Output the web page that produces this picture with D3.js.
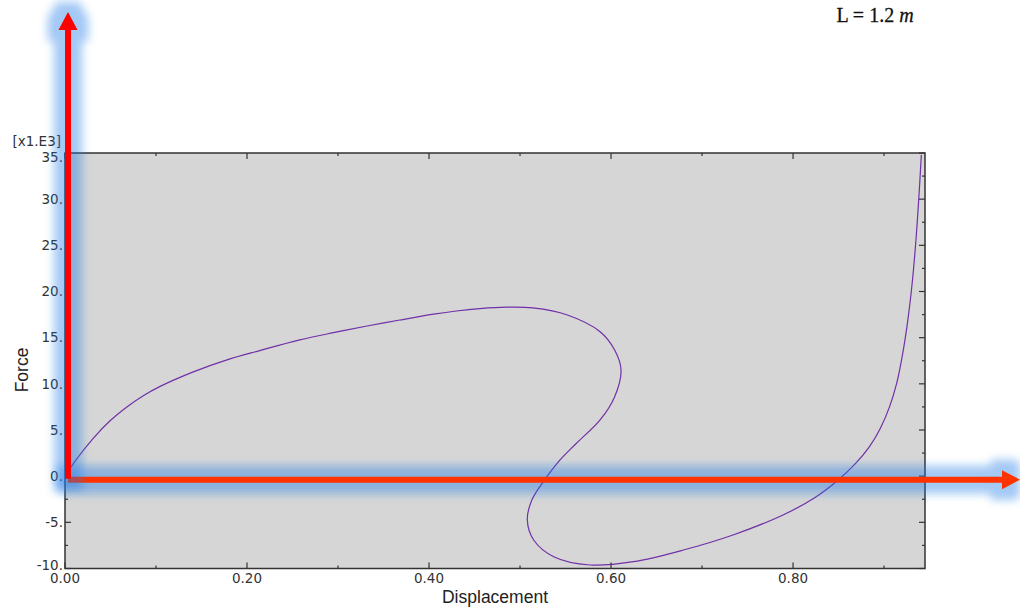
<!DOCTYPE html>
<html>
<head>
<meta charset="utf-8">
<script src="https://cdn.jsdelivr.net/npm/d3@7"></script>
<style>
	body { margin: 0; background: #fff; }
	svg { display: block; }
</style>
</head>
<body>
<svg id="chart" width="1020" height="608"></svg>
<script>

// load-displacement path (force in kN, i.e. x1.E3)
const displacement = [0, 0.012, 0.031, 0.0495, 0.068, 0.086, 0.104, 0.141, 0.178, 0.214, 0.258, 0.295, 0.332, 0.368, 0.405, 0.430, 0.456, 0.485, 0.514, 0.552, 0.588, 0.604, 0.611, 0.604, 0.588, 0.562, 0.544, 0.527, 0.513, 0.508, 0.515, 0.537, 0.577, 0.6245, 0.6795, 0.734, 0.789, 0.822, 0.848, 0.868, 0.884, 0.896, 0.906, 0.914, 0.920, 0.926, 0.931, 0.935, 0.938, 0.941];
const force = [0, 1.75, 4.1, 6.0, 7.5, 8.72, 9.7, 11.3, 12.6, 13.6, 14.76, 15.54, 16.26, 16.91, 17.54, 17.89, 18.15, 18.3, 18.22, 17.46, 15.65, 13.67, 11.5, 8.61, 6.09, 3.56, 1.76, -0.41, -2.58, -4.75, -6.91, -8.72, -9.62, -9.26, -8.0, -6.37, -4.2, -2.45, -0.55, 1.3, 3.2, 5.2, 7.5, 10.1, 13.0, 16.8, 21.0, 25.5, 29.8, 34.8];

const xTicks = [0, 0.2, 0.4, 0.6, 0.8];
const xTickLabels = ["0.00", "0.20", "0.40", "0.60", "0.80"];
const xMinorTicks = [0.1, 0.3, 0.5, 0.7, 0.9];
const yTicks = [-10, -5, 0, 5, 10, 15, 20, 25, 30, 35];
const yTickLabels = ["-10.", "-5.", "0.", "5.", "10.", "15.", "20.", "25.", "30.", "35."];
const yMinorTicks = [-7.5, -2.5, 2.5, 7.5, 12.5, 17.5, 22.5, 27.5, 32.5];

const xLabel = "Displacement";
const yLabel = "Force";
const yScaleNote = "[x1.E3]";

const svg = d3.select("#chart");

const pLeft = 65, pRight = 925, pTop = 153, pBottom = 568.5;

const x = d3.scaleLinear().domain([0, 0.945]).range([pLeft, pRight]);
const y = d3.scaleLinear().domain([-10, 35]).range([pBottom, pTop]);

// plot background
svg.append("rect")
	.attr("x", pLeft)
	.attr("y", pTop)
	.attr("width", pRight - pLeft)
	.attr("height", pBottom - pTop)
	.attr("fill", "#d6d6d6");

// curve
const points = displacement.map((d, i) => [d, force[i]]);
svg.append("path")
	.datum(points)
	.attr("d", d3.line()
		.x(d => x(d[0]))
		.y(d => y(d[1]))
		.curve(d3.curveCatmullRom.alpha(0.5)))
	.attr("fill", "none")
	.attr("stroke", "#7030a8")
	.attr("stroke-width", 1.2);

// frame with inward ticks on all four sides
const frameG = svg.append("g").attr("stroke", "#333").attr("fill", "none");

function tickLines (g, values, len, side) {
	g.selectAll(null)
		.data(values)
		.enter()
		.append("line")
		.attr("stroke-width", 1.2)
		.attr("x1", d => side === "left" ? pLeft : side === "right" ? pRight : x(d))
		.attr("x2", d => side === "left" ? pLeft + len : side === "right" ? pRight - len : x(d))
		.attr("y1", d => side === "bottom" ? pBottom : side === "top" ? pTop : y(d))
		.attr("y2", d => side === "bottom" ? pBottom - len : side === "top" ? pTop + len : y(d));
}

["left", "right"].forEach(s => {
	tickLines(frameG, yTicks, 6, s);
	tickLines(frameG, yMinorTicks, 3, s);
});
["bottom", "top"].forEach(s => {
	tickLines(frameG, xTicks, 6, s);
	tickLines(frameG, xMinorTicks, 3, s);
});

frameG.append("rect")
	.attr("x", pLeft)
	.attr("y", pTop)
	.attr("width", pRight - pLeft)
	.attr("height", pBottom - pTop)
	.attr("stroke-width", 1.5);

// tick labels
const labelFont = "'DejaVu Sans', Verdana, sans-serif";

svg.append("g")
	.selectAll("text")
	.data(yTicks)
	.enter()
	.append("text")
	.attr("x", pLeft - 2)
	.attr("y", d => Math.min(Math.max(y(d), pTop + 4), pBottom - 3))
	.attr("dy", "0.35em")
	.attr("text-anchor", "end")
	.attr("font-family", labelFont)
	.attr("font-size", 13.5)
	.attr("fill", "#333")
	.text((d, i) => yTickLabels[i]);

svg.append("g")
	.selectAll("text")
	.data(xTicks)
	.enter()
	.append("text")
	.attr("x", d => x(d))
	.attr("y", pBottom + 14.5)
	.attr("text-anchor", "middle")
	.attr("font-family", labelFont)
	.attr("font-size", 13.5)
	.attr("fill", "#333")
	.text((d, i) => xTickLabels[i]);

svg.append("text")
	.attr("x", 61)
	.attr("y", 146)
	.attr("text-anchor", "end")
	.attr("font-family", labelFont)
	.attr("font-size", 13.5)
	.attr("fill", "#333")
	.text(yScaleNote);

// axis titles
svg.append("text")
	.attr("x", (pLeft + pRight) / 2)
	.attr("y", 603)
	.attr("text-anchor", "middle")
	.attr("font-family", "'Liberation Sans', Arial, sans-serif")
	.attr("font-size", 17.5)
	.attr("fill", "#222")
	.text(xLabel);

svg.append("text")
	.attr("transform", `translate(28, ${y(11.5)}) rotate(-90)`)
	.attr("text-anchor", "middle")
	.attr("font-family", "'Liberation Sans', Arial, sans-serif")
	.attr("font-size", 17.5)
	.attr("fill", "#222")
	.text(yLabel);

// annotation
const note = svg.append("text")
	.attr("x", 875)
	.attr("y", 22)
	.attr("text-anchor", "middle")
	.attr("font-family", "'Liberation Serif', 'Times New Roman', serif")
	.attr("font-size", 20)
	.attr("fill", "#111")
	.attr("stroke", "#111")
	.attr("stroke-width", 0.3);
note.append("tspan").text("L = 1.2 ");
note.append("tspan").attr("font-style", "italic").text("m");

// glow filter for the arrows
const defs = svg.append("defs");
const glow = defs.append("filter")
	.attr("id", "glow")
	.attr("filterUnits", "userSpaceOnUse")
	.attr("x", 0).attr("y", 0)
	.attr("width", 1020).attr("height", 608);
glow.append("feMorphology")
	.attr("in", "SourceAlpha")
	.attr("operator", "dilate")
	.attr("radius", 11)
	.attr("result", "fat");
glow.append("feFlood")
	.attr("flood-color", "rgb(30,120,230)")
	.attr("flood-opacity", 0.4);
glow.append("feComposite")
	.attr("in2", "fat")
	.attr("operator", "in");
glow.append("feGaussianBlur")
	.attr("stdDeviation", 4.5);

function arrow (x1, y1, x2, y2, color) {
	const ang = Math.atan2(y2 - y1, x2 - x1);
	const headLen = 18, headHalf = 9.5;
	const bx = x2 - headLen * Math.cos(ang), by = y2 - headLen * Math.sin(ang);
	const px = -Math.sin(ang) * headHalf, py = Math.cos(ang) * headHalf;
	const head = [[x2, y2], [bx + px, by + py], [bx - px, by - py]];

	const draw = (g) => {
		g.append("line")
			.attr("x1", x1).attr("y1", y1)
			.attr("x2", bx).attr("y2", by)
			.attr("stroke", color)
			.attr("stroke-width", 6);
		g.append("path")
			.attr("d", d3.line()(head) + "Z")
			.attr("fill", color);
	};
	draw(svg.append("g").attr("filter", "url(#glow)"));
	draw(svg.append("g"));
}

arrow(68, y(0) + 3.5, 1020, y(0) + 3.5, "#ff3300");
arrow(68, y(0) + 2.5, 68, 12, "#ff0000");

</script>
</body>
</html>
